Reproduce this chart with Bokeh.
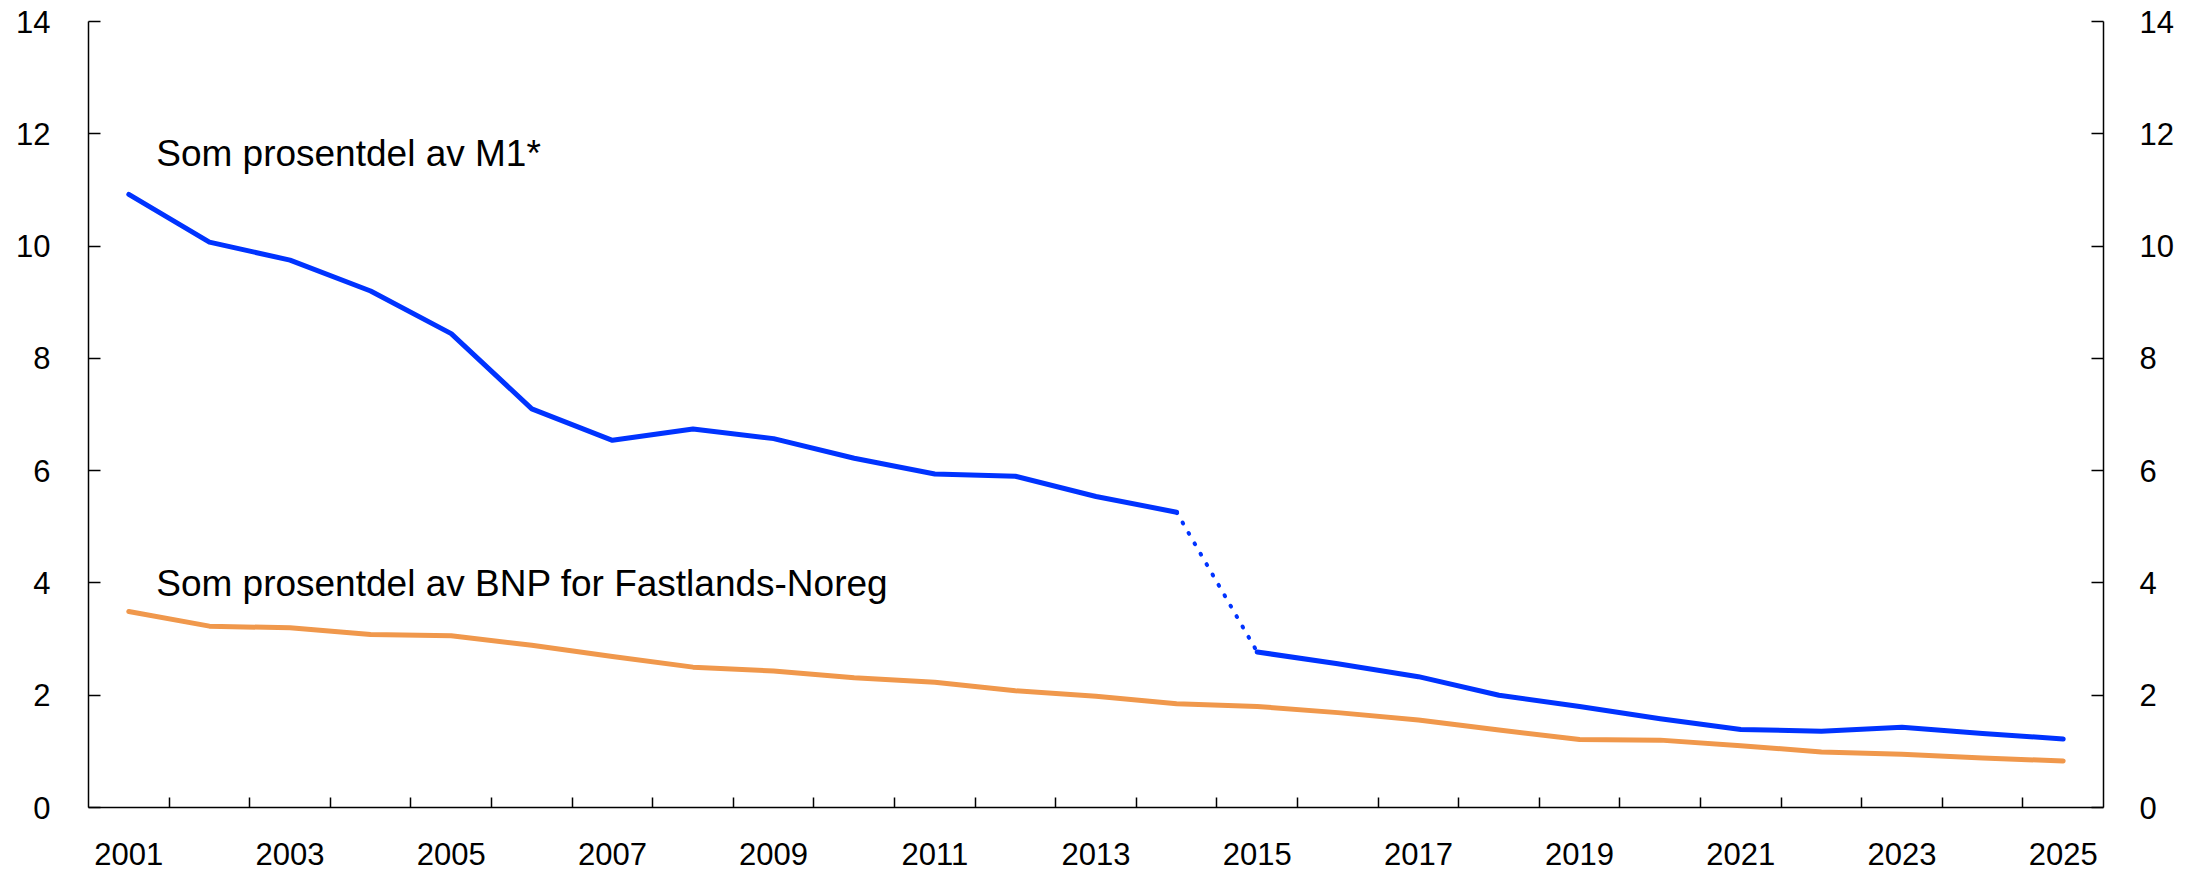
from bokeh.plotting import figure
from bokeh.models import Range1d, LinearAxis, FixedTicker
from bokeh.core.properties import value
from bokeh.embed import file_html
from bokeh.resources import INLINE

years = list(range(2001, 2026))
m1_share = [10.92, 10.07, 9.75, 9.20, 8.44, 7.10, 6.54, 6.74, 6.57, 6.22, 5.94, 5.90, 5.54, 5.26,
            2.77, 2.56, 2.33, 2.00, 1.80, 1.58, 1.39, 1.36, 1.43, 1.32, 1.22]
gdp_share = [3.49, 3.23, 3.20, 3.08, 3.06, 2.89, 2.69, 2.50, 2.43, 2.31, 2.23, 2.08, 1.98, 1.85,
             1.80, 1.69, 1.56, 1.38, 1.21, 1.20, 1.10, 0.99, 0.95, 0.88, 0.83]
label_m1 = "Som prosentdel av M1*"
label_gdp = "Som prosentdel av BNP for Fastlands-Noreg"
y_ticks = [0, 2, 4, 6, 8, 10, 12, 14]
x_label_years = list(range(2001, 2026, 2))

BLUE = "#0033ff"
ORANGE = "#f0984c"
TICK_FONT = "Liberation Sans"
LABEL_FONT = "Liberation Sans"

p = figure(width=2200, height=871, output_backend="svg", toolbar_location=None,
           x_range=Range1d(2000.5, 2025.5), y_range=Range1d(0, 14),
           min_border_left=88, min_border_right=97, min_border_top=21, min_border_bottom=64)
p.outline_line_color = None
p.xgrid.visible = False
p.ygrid.visible = False
p.background_fill_color = "white"
p.border_fill_color = "white"

# break between 2014 and 2015 (series break, drawn dotted)
bi = years.index(2014)
p.line(years[:bi + 1], m1_share[:bi + 1], line_color=BLUE, line_width=5, line_join="round", line_cap="round")
p.line(years[bi:bi + 2], m1_share[bi:bi + 2], line_color=BLUE, line_width=4, line_dash="1 11", line_cap="round")
p.line(years[bi + 1:], m1_share[bi + 1:], line_color=BLUE, line_width=5, line_join="round", line_cap="round")
p.line(years, gdp_share, line_color=ORANGE, line_width=5, line_join="round", line_cap="round")

p.text(x=[2001.34], y=[11.64], text=[label_m1], text_font=value(LABEL_FONT), text_font_size="37px",
       text_color="black", text_baseline="alphabetic", text_align="left")
p.text(x=[2001.34], y=[3.99], text=[label_gdp], text_font=value(LABEL_FONT), text_font_size="37px",
       text_color="black", text_baseline="alphabetic", text_align="left")

def style_y(ax, standoff):
    ax.ticker = FixedTicker(ticks=y_ticks)
    ax.major_tick_in = 12
    ax.major_tick_out = 0
    ax.minor_tick_in = 0
    ax.minor_tick_out = 0
    ax.axis_line_color = "black"
    ax.axis_line_width = 1.5
    ax.major_tick_line_color = "black"
    ax.major_tick_line_width = 1.5
    ax.major_label_text_font = TICK_FONT
    ax.major_label_text_font_size = "31px"
    ax.major_label_text_color = "black"
    ax.major_label_standoff = standoff

style_y(p.yaxis[0], 38)
right = LinearAxis()
style_y(right, 36)
p.add_layout(right, "right")

xa = p.xaxis[0]
xa.ticker = FixedTicker(ticks=x_label_years, minor_ticks=[y + 0.5 for y in years[:-1]])
xa.major_tick_in = 0
xa.major_tick_out = 0
xa.minor_tick_in = 10
xa.minor_tick_out = 0
xa.minor_tick_line_color = "black"
xa.minor_tick_line_width = 1.5
xa.axis_line_color = "black"
xa.axis_line_width = 1.5
xa.major_label_text_font = TICK_FONT
xa.major_label_text_font_size = "31px"
xa.major_label_text_color = "black"
xa.major_label_standoff = 35

open("out.html", "w").write(file_html(p, INLINE))
